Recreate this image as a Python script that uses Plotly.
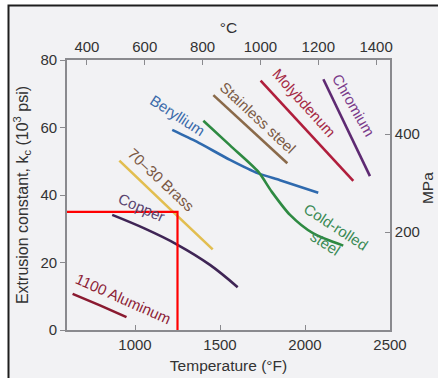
import plotly.graph_objects as go

# Extrusion constant k_c (10^3 psi) against billet temperature (°F)
al_T = [633, 794, 950]
al_k = [10.7, 7.3, 3.8]

cu_T = [866, 1055, 1245, 1441, 1604]
cu_k = [34.1, 30.1, 25.4, 19.3, 12.7]

brass_T = [908, 1182, 1457]
brass_k = [50.2, 37.0, 23.9]

be_T = [1219, 1363, 1559, 1725, 1853, 2078]
be_k = [59.3, 55.8, 50.4, 46.4, 44.4, 40.7]

crs_T = [1402, 1559, 1725, 1804, 1912, 2049, 2225]
crs_k = [62.0, 54.7, 46.9, 41.0, 34.1, 28.6, 25.0]

ss_T = [1461, 1896]
ss_k = [69.6, 49.4]

mo_T = [1739, 2284]
mo_k = [73.9, 44.2]

cr_T = [2108, 2382]
cr_k = [74.3, 45.6]

# Reading guide: k_c at 1250 °F
guide_T = [600, 1250, 1250]
guide_k = [35, 35, 0]

f_ticks = [1000, 1500, 2000, 2500]
k_ticks = [0, 20, 40, 60, 80]
c_ticks = [400, 600, 800, 1000, 1200, 1400]
mpa_ticks = [200, 400]

KSI_TO_MPA = 6.895

# name, T, k, line colour, label colour, label x, label y, angle, pixel nudge, smoothing
series = [
    ("1100 Aluminum", al_T, al_k, "#8a1a30", "#8d2236", 923, 8.3, 24, (1, 3), 0.5),
    ("Copper", cu_T, cu_k, "#3f2555", "#5a4570", 1029, 34.8, 24, (2, 5), 1.0),
    ("70–30 Brass", brass_T, brass_k, "#e2be50", "#7a5845", 1129, 43.3, 43, (4, 4), 0.5),
    ("Beryllium", be_T, be_k, "#2f6aae", "#3a6aaa", 1241, 62.2, 33, (2, 5), 0.6),
    ("Cold-rolled<br>steel", crs_T, crs_k, "#2e8a42", "#3a8a55", 2123, 27.9, 33, (5, 0), 0.75),
    ("Stainless steel", ss_T, ss_k, "#8a6a4a", "#7a5a45", 1700, 61.9, 43, (4, 4), 0.5),
    ("Molybdenum", mo_T, mo_k, "#b01e3c", "#a52a45", 1970, 66.1, 48, (4, 4), 0.5),
    ("Chromium", cr_T, cr_k, "#5e2a72", "#7a3a8a", 2253, 66.1, 60, (5, 2), 0.5),
]

FONT = "Liberation Sans, Arial, sans-serif"
AXIS_GRAY = "#8a8a8e"
TEXT = "#333333"

fig = go.Figure()

annotations = []
for name, T, k, lc, tc, ax_, ay_, ang, (dx, dy), sm in series:
    fig.add_trace(go.Scatter(
        x=T, y=k, mode="lines", name=name.replace("<br>", " "),
        line=dict(color=lc, width=2.6, shape="spline", smoothing=sm),
        showlegend=False, hoverinfo="skip",
    ))
    annotations.append(dict(
        x=ax_, y=ay_, xref="x", yref="y", text=name, showarrow=False,
        textangle=ang, xshift=dx, yshift=dy,
        font=dict(family=FONT, size=15, color=tc),
        xanchor="center", yanchor="middle",
    ))

# MPa scale title, next to the right edge of the figure
annotations.append(dict(
    x=1.118, y=0.526, xref="paper", yref="paper", text="MPa",
    showarrow=False, textangle=-90, xanchor="center", yanchor="middle",
    font=dict(family=FONT, size=15.5, color=TEXT),
))

fig.add_trace(go.Scatter(
    x=guide_T, y=guide_k, mode="lines",
    line=dict(color="#ff0000", width=2.2),
    showlegend=False, hoverinfo="skip",
))

# secondary scales: °C along the top, MPa on the right
fig.add_trace(go.Scatter(x=[], y=[], xaxis="x2", yaxis="y",
                         showlegend=False, hoverinfo="skip"))
fig.add_trace(go.Scatter(x=[], y=[], xaxis="x", yaxis="y2",
                         showlegend=False, hoverinfo="skip"))

axis_common = dict(
    showline=True, linecolor=AXIS_GRAY, linewidth=1.6,
    showgrid=False, zeroline=False, ticklen=5, tickwidth=1.4,
    tickcolor=AXIS_GRAY, tickfont=dict(family=FONT, size=15, color=TEXT),
    automargin=False,
)

fig.update_layout(
    width=438, height=378,
    margin=dict(l=67, r=48, t=60, b=48),
    paper_bgcolor="white",
    plot_bgcolor="rgba(0,0,0,0)",
    font=dict(family=FONT, color=TEXT),
    xaxis=dict(
        range=[600, 2500], tickvals=f_ticks, ticks="inside",
        title=dict(text="Temperature (°F)", font=dict(size=15.5), standoff=8),
        **axis_common,
    ),
    yaxis=dict(
        range=[0, 80], tickvals=k_ticks, ticks="outside",
        title=dict(text="Extrusion constant, k<sub>c</sub> (10<sup>3</sup> psi)",
                   font=dict(size=16), standoff=8),
        **axis_common,
    ),
    xaxis2=dict(
        range=[331, 1448], tickvals=c_ticks, ticks="inside",
        overlaying="x", side="top", anchor="y",
        title=dict(text="°C", font=dict(size=15.5), standoff=1),
        **axis_common,
    ),
    yaxis2=dict(
        range=[0, 80 * KSI_TO_MPA], tickvals=mpa_ticks, ticks="inside",
        overlaying="y", side="right", anchor="x",
        **axis_common,
    ),
    annotations=annotations,
    shapes=[
        dict(type="rect", xref="paper", yref="paper",
             x0=-58.5 / 323, x1=1.2, y0=-0.2, y1=324.5 / 270,
             fillcolor="#f2f2f4", line=dict(color="#1e1e1e", width=2),
             layer="below"),
    ],
)

fig.write_html("out.html")
